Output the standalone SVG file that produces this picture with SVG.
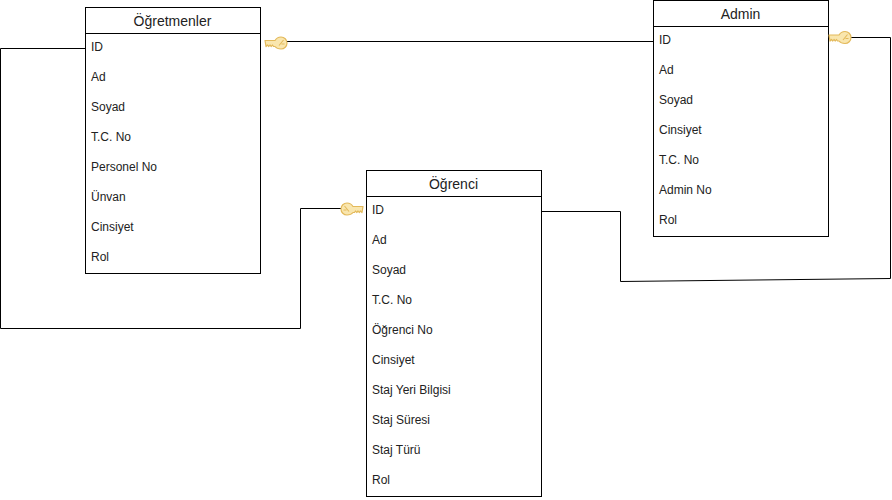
<svg xmlns="http://www.w3.org/2000/svg" width="892" height="500" viewBox="0 0 892 500">
<style>
.box{fill:#fff;stroke:#000;stroke-width:1}
.conn{fill:none;stroke:#000;stroke-width:1}
text{font-family:"Liberation Sans",Arial,sans-serif;fill:#222}
.t{font-size:14px;text-anchor:middle}
.r{font-size:12px}
.k{fill:#f9e6ae;stroke:#e3b95a;stroke-width:1.2;stroke-linejoin:round}
.kd{fill:none;stroke:#e3b95a;stroke-width:1.1}
</style>
<defs>
<g id="key">
<path class="k" d="M0.500 -3 L10.500 -3 Q12.500 -6.500 16.500 -6.500 A6 6 0 1 1 16.500 5.500 Q12.500 5.500 10.500 3 L9 3 L8 1.500 L6.800 3 L5.500 1.500 L4.300 3 L3 1.500 L1.500 3 Z"/>
<path class="kd" d="M14.500 2 L19 -3.500 M17 0.500 L20 0.500"/>
</g>
</defs>
<g id="connectors">
<path class="conn" d="M286 41.500H653.500"/>
<path class="conn" d="M85.500 48.500H0.500V328.500H300.500V208.500H341"/>
<path class="conn" d="M541.500 211.500H620.500V281.500L890.500 278.500V37.500H851"/>
</g>
<g id="ogretmenler">
<rect class="box" x="85.500" y="7.500" width="175" height="266"/>
<path class="conn" d="M85.500 33.500H260.500"/>
<text class="t" x="172.500" y="26">Öğretmenler</text>
<text class="r" x="91" y="51">ID</text>
<text class="r" x="91" y="81">Ad</text>
<text class="r" x="91" y="111">Soyad</text>
<text class="r" x="91" y="141">T.C. No</text>
<text class="r" x="91" y="171">Personel No</text>
<text class="r" x="91" y="201">Ünvan</text>
<text class="r" x="91" y="231">Cinsiyet</text>
<text class="r" x="91" y="261">Rol</text>
</g>
<g id="admin">
<rect class="box" x="653.500" y="0.500" width="175" height="236"/>
<path class="conn" d="M653.500 26.500H828.500"/>
<text class="t" x="740.500" y="19">Admin</text>
<text class="r" x="659" y="44">ID</text>
<text class="r" x="659" y="74">Ad</text>
<text class="r" x="659" y="104">Soyad</text>
<text class="r" x="659" y="134">Cinsiyet</text>
<text class="r" x="659" y="164">T.C. No</text>
<text class="r" x="659" y="194">Admin No</text>
<text class="r" x="659" y="224">Rol</text>
</g>
<g id="ogrenci">
<rect class="box" x="366.500" y="170.500" width="175" height="326"/>
<path class="conn" d="M366.500 196.500H541.500"/>
<text class="t" x="453.500" y="189">Öğrenci</text>
<text class="r" x="372" y="214">ID</text>
<text class="r" x="372" y="244">Ad</text>
<text class="r" x="372" y="274">Soyad</text>
<text class="r" x="372" y="304">T.C. No</text>
<text class="r" x="372" y="334">Öğrenci No</text>
<text class="r" x="372" y="364">Cinsiyet</text>
<text class="r" x="372" y="394">Staj Yeri Bilgisi</text>
<text class="r" x="372" y="424">Staj Süresi</text>
<text class="r" x="372" y="454">Staj Türü</text>
<text class="r" x="372" y="484">Rol</text>
</g>
<use href="#key" transform="translate(264.500 43.500)"/>
<use href="#key" transform="translate(828.500 38)"/>
<use href="#key" transform="translate(363.500 209.500) scale(-1 1)"/>
</svg>
